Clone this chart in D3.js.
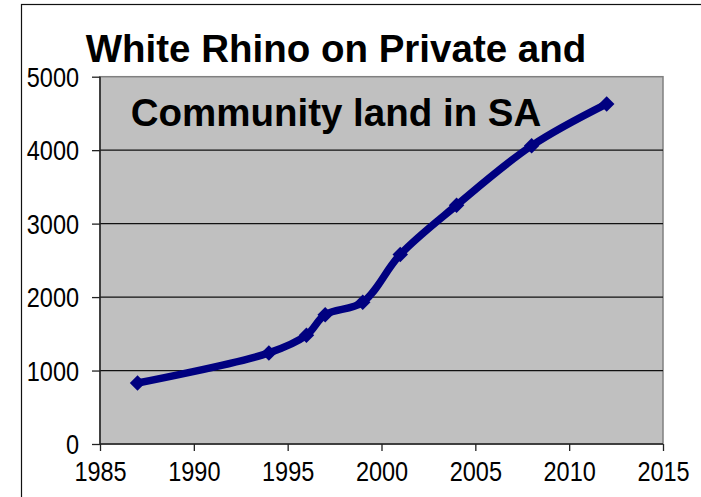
<!DOCTYPE html>
<html>
<head>
<meta charset="utf-8">
<script src="https://cdn.jsdelivr.net/npm/d3@7"></script>
<style>
  html, body { margin: 0; padding: 0; background: #ffffff; }
  svg { display: block; }
  text { font-family: "Liberation Sans", Arial, sans-serif; }
</style>
</head>
<body>
<svg id="chart" width="701" height="497"></svg>
<script>
// White rhino counts on private and community land in South Africa
const years = [1987, 1994, 1996, 1997, 1999, 2001, 2004, 2008, 2012];
const rhinoCounts = [830, 1240, 1480, 1760, 1930, 2580, 3250, 4060, 4630];
const xTicks = [1985, 1990, 1995, 2000, 2005, 2010, 2015];
const yTicks = [0, 1000, 2000, 3000, 4000, 5000];
const titleLines = ["White Rhino on Private and", "Community land in SA"];

const svg = d3.select("#chart");
const plot = { left: 100, right: 663, top: 76.7, bottom: 444 };

const x = d3.scaleLinear().domain([1985, 2015]).range([plot.left, plot.right]);
const y = d3.scaleLinear().domain([0, 5000]).range([plot.bottom, plot.top]);

// outer chart frame
svg.append("rect")
  .attr("x", 21.5).attr("y", 4.5)
  .attr("width", 1000).attr("height", 1000)
  .attr("fill", "none").attr("stroke", "#111").attr("stroke-width", 1.2);

// plot area
svg.append("rect")
  .attr("x", plot.left).attr("y", plot.top)
  .attr("width", plot.right - plot.left).attr("height", plot.bottom - plot.top)
  .attr("fill", "#c0c0c0").attr("stroke", "#808080").attr("stroke-width", 1.5);

// horizontal gridlines
svg.append("g").selectAll("line")
  .data(yTicks.filter(v => v > 0 && v < 5000))
  .join("line")
  .attr("x1", plot.left).attr("x2", plot.right)
  .attr("y1", d => y(d)).attr("y2", d => y(d))
  .attr("stroke", "#111").attr("stroke-width", 1.3);

// axes
const labelScaleX = 0.87;
const yAxis = svg.append("g")
  .attr("transform", `translate(${plot.left},0)`)
  .call(d3.axisLeft(y).tickValues(yTicks).tickSize(8).tickPadding(13).tickFormat(d3.format("d")));
const xAxis = svg.append("g")
  .attr("transform", `translate(0,${plot.bottom})`)
  .call(d3.axisBottom(x).tickValues(xTicks).tickSize(7).tickPadding(11).tickFormat(d3.format("d")));

[yAxis, xAxis].forEach(g => {
  g.select(".domain").attr("stroke", "#222").attr("stroke-width", 1.5);
  g.selectAll(".tick line").attr("stroke", "#222").attr("stroke-width", 1.3);
  g.selectAll(".tick text")
    .attr("fill", "#000")
    .style("font-size", "27px");
});
xAxis.select(".domain").attr("d", `M${plot.left},0H${plot.right}`);
yAxis.select(".domain").attr("d", `M0,${plot.bottom}V${plot.top}`);

// horizontally condensed tick labels
yAxis.selectAll(".tick text")
  .attr("dy", "0.36em")
  .attr("transform", function () {
    const tx = +d3.select(this).attr("x");
    return `translate(${tx},0) scale(${labelScaleX},1) translate(${-tx},0)`;
  });
xAxis.selectAll(".tick text")
  .attr("dy", "0.71em")
  .attr("transform", `scale(${labelScaleX},1)`);

// title
svg.append("g").selectAll("text")
  .data(titleLines)
  .join("text")
  .attr("x", 336)
  .attr("y", (d, i) => i === 0 ? 62 : 126)
  .attr("text-anchor", "middle")
  .style("font-size", "38.5px")
  .style("font-weight", "bold")
  .attr("fill", "#000")
  .text(d => d);

// smoothed series line
const points = years.map((yr, i) => [yr, rhinoCounts[i]]);
const line = d3.line()
  .x(d => x(d[0]))
  .y(d => y(d[1]))
  .curve(d3.curveCatmullRom.alpha(0.5));

svg.append("path")
  .datum(points)
  .attr("d", line)
  .attr("fill", "none")
  .attr("stroke", "#000080")
  .attr("stroke-width", 7.5)
  .attr("stroke-linejoin", "round");

// diamond markers
const diamond = d3.symbol().type(d3.symbolSquare).size(120);
svg.append("g").selectAll("path")
  .data(points)
  .join("path")
  .attr("d", diamond)
  .attr("transform", d => `translate(${x(d[0])},${y(d[1])}) rotate(45)`)
  .attr("fill", "#000080");
</script>
</body>
</html>
